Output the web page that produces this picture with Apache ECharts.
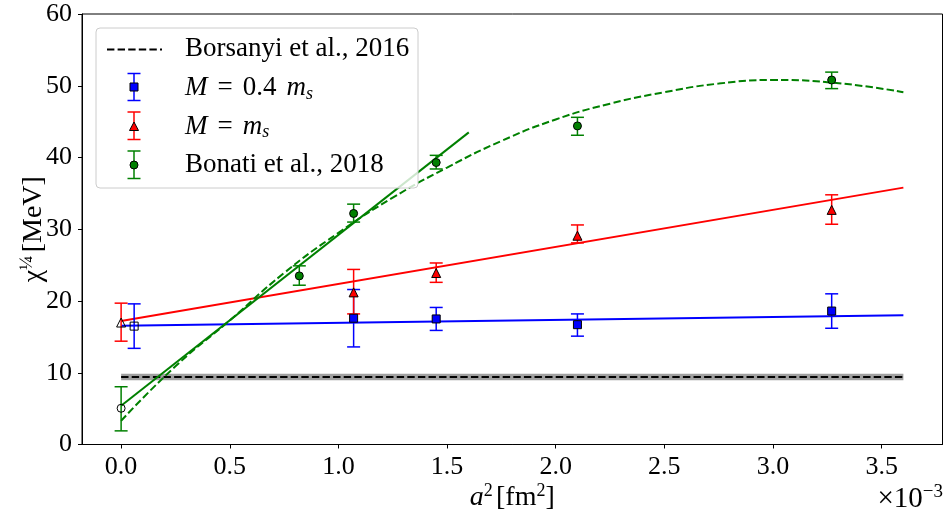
<!DOCTYPE html>
<html><head><meta charset="utf-8">
<script src="https://cdn.jsdelivr.net/npm/echarts@6/dist/echarts.min.js"></script>
<style>html,body{margin:0;padding:0;background:#fff}#c{width:944px;height:512px}</style>
</head><body><div id="c"></div>
<script>
// ---- tick labels ----
const xTicks = [0, 0.5, 1, 1.5, 2, 2.5, 3, 3.5];
const yTicks = [0, 10, 20, 30, 40, 50, 60];

// ---- M = 0.4 m_s (blue squares) ----
const blueX  = [1.07, 1.45, 2.10, 3.27];
const blueY  = [17.6, 17.5, 16.7, 18.6];
const blueLo = [13.6, 15.9, 15.1, 16.2];
const blueHi = [21.6, 19.1, 18.2, 21.0];
const blueExtX = [0.06], blueExtY = [16.5], blueExtLo = [13.4], blueExtHi = [19.6];
const blueFitX = [0, 3.6], blueFitY = [16.55, 18.03];

// ---- M = m_s (red triangles) ----
const redX  = [1.07, 1.45, 2.10, 3.27];
const redY  = [21.2, 23.9, 29.1, 32.7];
const redLo = [18.2, 22.6, 28.1, 30.7];
const redHi = [24.4, 25.3, 30.6, 34.8];
const redExtX = [0], redExtY = [17.0], redExtLo = [14.4], redExtHi = [19.7];
const redFitX = [0, 3.6], redFitY = [17.2, 35.8];

// ---- Bonati et al., 2018 (green circles) ----
const greenX  = [0.82, 1.07, 1.45, 2.10, 3.27];
const greenY  = [23.5, 32.2, 39.3, 44.4, 50.8];
const greenLo = [22.2, 31.0, 38.4, 43.1, 49.6];
const greenHi = [24.9, 33.5, 40.3, 45.6, 51.9];
const greenExtX = [0], greenExtY = [5.05], greenExtLo = [1.9], greenExtHi = [8.05];
const greenFitX = [0, 1.6], greenFitY = [5.4, 43.5];
const greenCurveX = [0, 0.25, 0.5, 0.75, 1.0, 1.25, 1.5, 1.75, 2.0, 2.25, 2.5, 2.75, 3.0, 3.25, 3.6];
const greenCurveY = [3.3, 10.9, 17.3, 23.9, 29.5, 34.4, 38.6, 42.3, 45.3, 47.5, 49.1, 50.3, 50.8, 50.5, 49.1];

// ---- Borsanyi et al., 2016 (black dashed with band) ----
const borsX = [0, 3.6], borsY = [9.4, 9.4];
const borsLo = 8.95, borsHi = 9.85;

const zip = (a, b) => a.map((v, i) => [v, b[i]]);
const zip3 = (a, b, c) => a.map((v, i) => [v, b[i], c[i]]);
const FONT = 'Liberation Serif';
const FS = 26;

function errSeries(xs, lo, hi, color) {
  return {
    type: 'custom', z: 4, silent: true,
    data: zip3(xs, lo, hi),
    encode: { x: 0, y: [1, 2] },
    renderItem: (params, api) => {
      const x = api.value(0);
      const p1 = api.coord([x, api.value(1)]);
      const p2 = api.coord([x, api.value(2)]);
      const w = 6.5;
      const st = { stroke: color, lineWidth: 1.5 };
      return { type: 'group', children: [
        { type: 'line', shape: { x1: p1[0], y1: p1[1], x2: p2[0], y2: p2[1] }, style: st },
        { type: 'line', shape: { x1: p1[0] - w, y1: p1[1], x2: p1[0] + w, y2: p1[1] }, style: st },
        { type: 'line', shape: { x1: p2[0] - w, y1: p2[1], x2: p2[0] + w, y2: p2[1] }, style: st }
      ] };
    }
  };
}
function markerSeries(xs, ys, symbol, size, fill) {
  return {
    type: 'scatter', z: 5, silent: true, symbol: symbol, symbolSize: size,
    data: zip(xs, ys),
    itemStyle: { color: fill, borderColor: '#000', borderWidth: 1, opacity: 1 }
  };
}
function lineSeries(xs, ys, color, type, width, smooth) {
  return {
    type: 'line', z: 3, silent: true, showSymbol: false, symbol: 'none', smooth: !!smooth,
    data: zip(xs, ys),
    lineStyle: { color: color, width: width, type: type, cap: 'butt' }
  };
}

const chart = echarts.init(document.getElementById('c'), null, { renderer: 'canvas' });

const series = [
  {
    type: 'custom', z: 1, silent: true,
    data: [[borsX[0], borsX[1], borsLo, borsHi]],
    renderItem: (params, api) => {
      const a = api.coord([api.value(0), api.value(3)]);
      const b = api.coord([api.value(1), api.value(2)]);
      return { type: 'rect', shape: { x: a[0], y: a[1], width: b[0] - a[0], height: b[1] - a[1] },
               style: { fill: 'rgba(128,128,128,0.75)' } };
    }
  },
  lineSeries(borsX, borsY, '#000', [7.4, 3.2], 2),
  lineSeries(blueFitX, blueFitY, '#0000ff', 'solid', 2),
  lineSeries(redFitX, redFitY, '#ff0000', 'solid', 2),
  lineSeries(greenFitX, greenFitY, '#008000', 'solid', 2),
  lineSeries(greenCurveX, greenCurveY, '#008000', [7.4, 3.2], 2, true),
  errSeries(blueX, blueLo, blueHi, '#0000ff'),
  errSeries(blueExtX, blueExtLo, blueExtHi, '#0000ff'),
  errSeries(redX, redLo, redHi, '#ff0000'),
  errSeries(redExtX, redExtLo, redExtHi, '#ff0000'),
  errSeries(greenX, greenLo, greenHi, '#008000'),
  errSeries(greenExtX, greenExtLo, greenExtHi, '#008000'),
  markerSeries(blueX, blueY, 'rect', 8, '#0000ff'),
  markerSeries(blueExtX, blueExtY, 'rect', 8, 'rgba(0,0,0,0)'),
  markerSeries(redX, redY, 'triangle', 9, '#ff0000'),
  markerSeries(redExtX, redExtY, 'triangle', 9, 'rgba(0,0,0,0)'),
  markerSeries(greenX, greenY, 'circle', 8, '#008000'),
  markerSeries(greenExtX, greenExtY, 'circle', 8, 'rgba(0,0,0,0)')
];

// ---- legend drawn with graphic elements ----
const LX = 96, LY = 28;
const LFS = 27;
const legendTextStyle = { font: LFS + 'px "' + FONT + '"', fill: '#000', verticalAlign: 'middle', align: 'left' };
const rich = {
  i: { fontFamily: FONT, fontStyle: 'italic', fontSize: LFS, fill: '#000' },
  r: { fontFamily: FONT, fontSize: LFS, fill: '#000' },
  sp: { fontFamily: FONT, fontSize: LFS, fill: '#000', width: 10 },
  sub: { fontFamily: FONT, fontStyle: 'italic', fontSize: 18, verticalAlign: 'bottom', padding: [12, 0, 0, 0], fill: '#000' }
};
function legendErr(cx, y1, y2, color) {
  const st = { stroke: color, lineWidth: 1.5 };
  return [
    { type: 'line', z: 101, shape: { x1: cx, y1: y1, x2: cx, y2: y2 }, style: st },
    { type: 'line', z: 101, shape: { x1: cx - 6.5, y1: y1, x2: cx + 6.5, y2: y1 }, style: st },
    { type: 'line', z: 101, shape: { x1: cx - 6.5, y1: y2, x2: cx + 6.5, y2: y2 }, style: st }
  ];
}
const graphic = [
  { type: 'rect', z: 100, shape: { x: LX, y: LY, width: 322, height: 160, r: 4 },
    style: { fill: 'rgba(255,255,255,0.8)', stroke: '#cccccc', lineWidth: 1 } },
  { type: 'line', z: 101, shape: { x1: 107, y1: 49.5, x2: 162, y2: 49.5 },
    style: { stroke: '#000', lineWidth: 2, lineDash: [7.4, 3.2] } },
  { type: 'text', z: 101, x: 185, y: 49, style: Object.assign({ text: 'Borsanyi et al., 2016' }, legendTextStyle) },
  ...legendErr(134, 73.5, 100.5, '#0000ff'),
  { type: 'rect', z: 102, shape: { x: 130, y: 83, width: 8, height: 8 }, style: { fill: '#0000ff', stroke: '#000', lineWidth: 1 } },
  { type: 'text', z: 101, x: 185, y: 88, style: { text: '{i|M}{sp| }{r|=}{sp| }{r|0.4}{sp| }{i|m}{sub|s}', rich: rich, verticalAlign: 'middle', align: 'left' } },
  ...legendErr(134, 112, 139.5, '#ff0000'),
  { type: 'polygon', z: 102, shape: { points: [[134, 122], [138.5, 130.5], [129.5, 130.5]] }, style: { fill: '#ff0000', stroke: '#000', lineWidth: 1 } },
  { type: 'text', z: 101, x: 185, y: 126.5, style: { text: '{i|M}{sp| }{r|=}{sp| }{i|m}{sub|s}', rich: rich, verticalAlign: 'middle', align: 'left' } },
  ...legendErr(134, 151, 178.5, '#008000'),
  { type: 'circle', z: 102, shape: { cx: 134, cy: 165, r: 4 }, style: { fill: '#008000', stroke: '#000', lineWidth: 1 } },
  { type: 'text', z: 101, x: 185, y: 165, style: Object.assign({ text: 'Bonati et al., 2018' }, legendTextStyle) },
  // x-axis multiplier
  { type: 'text', z: 101, right: 1, top: 483, style: { text: '{r|×10}{sup|−3}', align: 'right',
      rich: { r: { fontFamily: FONT, fontSize: 29, fill: '#000' },
              sup: { fontFamily: FONT, fontSize: 19, verticalAlign: 'top', padding: [0, 0, 13, 0], fill: '#000' } } } }
];

chart.setOption({
  animation: false,
  backgroundColor: '#fff',
  grid: { left: 82, right: 1.5, top: 14, bottom: 67.5, show: true, borderColor: '#000', borderWidth: 1,
          backgroundColor: 'transparent', containLabel: false, outerBoundsMode: 'none' },
  xAxis: {
    type: 'value', min: -0.18, max: 3.78,
    splitLine: { show: false },
    axisLine: { show: true, onZero: false, lineStyle: { color: '#000', width: 1 } },
    axisTick: { show: true, inside: false, length: 4, lineStyle: { color: '#000' }, customValues: xTicks },
    axisLabel: { customValues: xTicks, margin: 10, fontFamily: FONT, fontSize: FS, color: '#000',
                 formatter: v => v.toFixed(1) },
    name: '{i|a}{sup|2} {r|[fm}{sup|2}{r|]}', nameLocation: 'middle', nameGap: 38, nameMoveOverlap: false,
    nameTextStyle: { rich: {
      i: { fontFamily: FONT, fontStyle: 'italic', fontSize: 28, color: '#000' },
      r: { fontFamily: FONT, fontSize: 28, color: '#000' },
      sup: { fontFamily: FONT, fontSize: 18, verticalAlign: 'top', padding: [0, 0, 12, 0], color: '#000' } } }
  },
  yAxis: {
    type: 'value', min: 0, max: 60, interval: 10,
    splitLine: { show: false },
    axisLine: { show: true, onZero: false, lineStyle: { color: '#000', width: 1 } },
    axisTick: { show: true, inside: false, length: 4, lineStyle: { color: '#000' } },
    axisLabel: { margin: 10, fontFamily: FONT, fontSize: FS, color: '#000' },
    name: '{r|χ}{sup|¼} {r|[MeV]}', nameLocation: 'middle', nameGap: 33, nameRotate: 90, nameMoveOverlap: false,
    nameTextStyle: { rich: {
      r: { fontFamily: FONT, fontSize: 28, color: '#000' },
      sup: { fontFamily: FONT, fontSize: 19, verticalAlign: 'top', padding: [0, 0, 12, 0], color: '#000' } } }
  },
  series: series,
  graphic: graphic
});
</script>
</body></html>
